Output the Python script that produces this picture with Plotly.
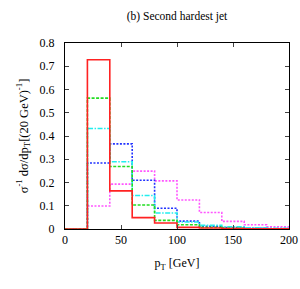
import plotly.graph_objects as go

bin_edges = [0, 20, 40, 60, 80, 100, 120, 140, 160, 180, 200]
red_vals = [0.0, 0.728, 0.164, 0.049, 0.026, 0.007, 0.004, 0.002, 0.001, 0.0005]
green_vals = [0.0, 0.563, 0.269, 0.103, 0.037, 0.018, 0.007, 0.003, 0.001, 0.001]
cyan_vals = [0.0, 0.432, 0.289, 0.144, 0.069, 0.030, 0.016, 0.009, 0.005, 0.003]
blue_vals = [0.0, 0.284, 0.366, 0.210, 0.089, 0.034, 0.012, 0.006, 0.003, 0.002]
magenta_vals = [0.0, 0.099, 0.193, 0.249, 0.207, 0.125, 0.071, 0.033, 0.018, 0.010]

series = [
    ("magenta", magenta_vals, "#ff55ff", "2px,1.5px", 1.6),
    ("blue", blue_vals, "#2233ff", "2px,1.5px", 1.6),
    ("cyan", cyan_vals, "#22eeee", "5px,1.5px,1.5px,1.5px", 1.6),
    ("green", green_vals, "#22dd22", "3px,1.5px", 1.6),
    ("red", red_vals, "#ff2222", "solid", 1.6),
]

fig = go.Figure()
for name, vals, color, dash, w in series:
    fig.add_trace(go.Scatter(
        x=bin_edges, y=vals + [vals[-1]],
        mode="lines", line=dict(shape="hv", color=color, dash=dash, width=w),
        name=name, showlegend=False, hoverinfo="skip",
    ))

font = "Liberation Serif"
fig.update_layout(
    width=300, height=289,
    margin=dict(l=65, r=11, t=43, b=60),
    paper_bgcolor="white", plot_bgcolor="white",
    font=dict(family=font, size=12, color="black"),
    title=dict(text="(b) Second hardest jet", x=0.59, xanchor="center",
               y=0.945, yanchor="middle", font=dict(family=font, size=11.5)),
    xaxis=dict(range=[0, 200], dtick=50, ticks="inside", ticklen=4,
               showline=True, linecolor="black", linewidth=1, mirror="ticks",
               showgrid=False, zeroline=False, automargin=False,
               tickfont=dict(family=font, size=12),
               title=dict(text="p<sub>T</sub> [GeV]", standoff=12,
                          font=dict(family=font, size=12))),
    yaxis=dict(range=[0, 0.8], dtick=0.1, ticks="inside", ticklen=4,
               showline=True, linecolor="black", linewidth=1, mirror="ticks",
               showgrid=False, zeroline=False, automargin=False,
               ticklabelstandoff=7,
               tickfont=dict(family=font, size=12),
               title=dict(text="σ<sup>-1</sup> dσ/dp<sub>T</sub>[(20 GeV)<sup>-1</sup>]",
                          standoff=8, font=dict(family=font, size=12.5))),
)

fig.write_html("out.html", config={"displayModeBar": False},
               post_script="document.body.style.margin='0';")
